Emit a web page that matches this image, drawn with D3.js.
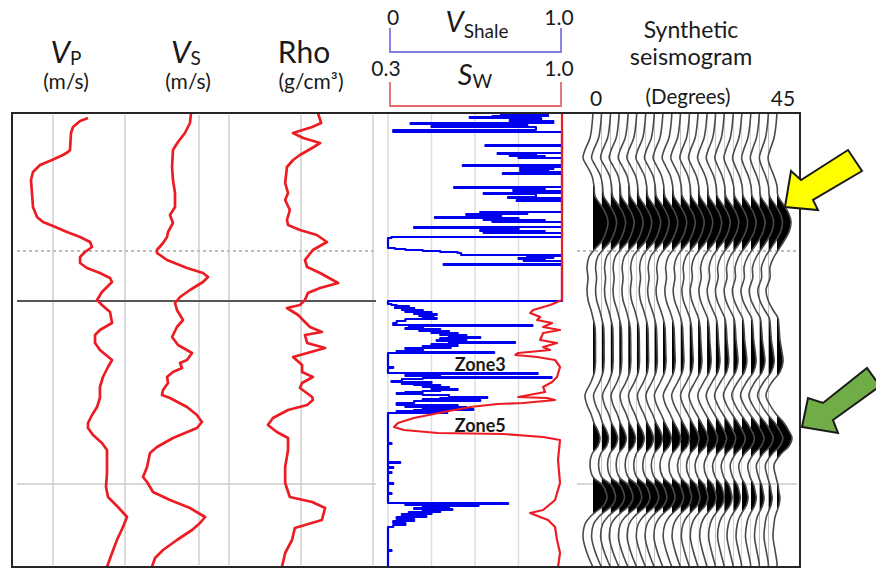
<!DOCTYPE html>
<html><head><meta charset="utf-8">
<script src="https://cdn.jsdelivr.net/npm/d3@7"></script>
<style>
body{margin:0;background:#fff}
svg{display:block;font-family:Lato,"Open Sans",sans-serif}
</style>
</head><body>
<svg id="chart" width="876" height="571"></svg>
<script>
// ---------------- DATA ----------------
// well logs: [depth (m), value]
const vpLog = [[2102.5,2743],[2104,2688],[2107,2639],[2110,2625],[2118.5,2618],[2119.5,2604],[2121,2569],[2123.5,2493],[2126,2410],[2129.5,2361],[2133.5,2347],[2140,2354],[2147,2361],[2152,2389],[2154.5,2431],[2156.5,2500],[2159.5,2597],[2162,2688],[2164.5,2757],[2167,2771],[2169.5,2722],[2172,2688],[2175,2688],[2177.5,2736],[2180,2826],[2182.5,2896],[2184.5,2910],[2187,2875],[2189.5,2840],[2193.5,2806],[2196,2840],[2199.5,2896],[2205,2910],[2208.5,2826],[2211,2792],[2215,2792],[2218.5,2826],[2223.5,2910],[2227,2882],[2232,2847],[2237,2826],[2242.5,2826],[2247,2806],[2251,2771],[2255,2743],[2257.5,2743],[2261,2778],[2265,2840],[2268.5,2875],[2273.5,2875],[2280,2875],[2287,2868],[2292,2882],[2297,2951],[2302,3014],[2307,2986],[2313.5,2944],[2320,2910],[2327,2875]];
const vsLog = [[2100,1446],[2105,1439],[2110,1405],[2114.5,1358],[2118.5,1324],[2127,1318],[2133.5,1324],[2140,1338],[2147,1338],[2151,1304],[2155,1324],[2159.5,1291],[2162,1284],[2165,1257],[2168.5,1216],[2170,1216],[2173.5,1284],[2177.5,1419],[2180,1527],[2182,1561],[2184.5,1527],[2188.5,1439],[2192,1372],[2195,1338],[2198.5,1351],[2203.5,1392],[2207,1351],[2212,1318],[2216,1358],[2220,1453],[2223.5,1419],[2225,1372],[2227.5,1385],[2229.5,1324],[2232,1284],[2235,1291],[2238.5,1257],[2241,1250],[2242.5,1304],[2247,1419],[2251,1486],[2254.5,1520],[2257.5,1486],[2262.5,1324],[2267,1216],[2270,1169],[2277,1149],[2282,1122],[2284.5,1149],[2289.5,1189],[2293.5,1304],[2297.5,1439],[2302,1541],[2305,1507],[2308.5,1453],[2313.5,1351],[2318.5,1257],[2322.5,1203],[2327,1182]];
const rhoLog = [[2100,2.247],[2105,2.256],[2107,2.231],[2110,2.178],[2112.5,2.206],[2115,2.253],[2117.5,2.231],[2121,2.197],[2123.5,2.178],[2127,2.161],[2135,2.156],[2140,2.164],[2143.5,2.156],[2148.5,2.169],[2153.5,2.161],[2156,2.164],[2158.5,2.197],[2161,2.244],[2164.5,2.272],[2168.5,2.233],[2173.5,2.211],[2177,2.217],[2180,2.253],[2185,2.303],[2187.5,2.253],[2190,2.219],[2193.5,2.211],[2196,2.197],[2197.5,2.161],[2201,2.192],[2204.5,2.211],[2207,2.225],[2209.5,2.258],[2211,2.211],[2215,2.217],[2217.5,2.267],[2222,2.178],[2226,2.203],[2229.5,2.203],[2232,2.233],[2235,2.203],[2237.5,2.197],[2242,2.231],[2243.5,2.233],[2246,2.217],[2248.5,2.164],[2252.5,2.122],[2256,2.108],[2259.5,2.133],[2262.5,2.164],[2268.5,2.164],[2277,2.156],[2285,2.156],[2292,2.169],[2294.5,2.231],[2297.5,2.267],[2303.5,2.258],[2307.5,2.183],[2313.5,2.175],[2320,2.156],[2327,2.147]];
const swLog = [[2100,1.0],[2193.5,1.0],[2196,0.952],[2198.5,0.884],[2200,0.872],[2202,0.912],[2203.5,0.90],[2205,0.96],[2207,0.924],[2208.5,0.992],[2210,0.924],[2213.5,0.912],[2215,0.98],[2217,0.924],[2218.5,0.952],[2220,0.824],[2221,0.812],[2222,0.90],[2223.5,0.972],[2227,0.992],[2232,0.98],[2234.5,0.96],[2237,0.924],[2239.5,0.932],[2242,0.824],[2242.5,0.94],[2243.5,0.972],[2245,0.844],[2245.5,0.74],[2247,0.632],[2249.5,0.524],[2252.5,0.404],[2255,0.34],[2257,0.324],[2258.5,0.364],[2260,0.50],[2260.5,0.764],[2262,0.924],[2263.5,0.992],[2273.5,0.984],[2285,0.992],[2293.5,0.972],[2298.5,0.924],[2300,0.872],[2302,0.912],[2303.5,0.944],[2307,0.972],[2313.5,0.98],[2320,0.992],[2327,0.984]];
// Vshale, step log: each value holds from its depth down to the next depth
const vshLog = [[2100,0.82],[2100.5,0.65],[2101,0.92],[2101.5,0.60],[2102,0.47],[2102.5,0.88],[2103.5,0.70],[2104,0.95],[2105,0.13],[2105.5,0.80],[2106.5,0.25],[2107,0.85],[2108.5,0.03],[2109.5,1.0],
 [2116,0.56],[2116.5,1.0],[2120,0.63],[2120.5,0.85],[2121,0.70],[2121.5,0.90],[2122,0.75],[2122.5,1.0],[2126,0.43],[2126.5,1.0],[2127,0.76],[2127.5,0.95],[2128,0.76],[2128.5,0.92],[2129,0.76],[2129.5,1.0],[2130,0.66],[2130.5,1.0],
 [2137,0.38],[2137.5,0.90],[2138.5,0.72],[2139,1.0],[2140,0.55],[2140.5,0.85],[2142,0.69],[2142.5,1.0],[2143.5,0.74],[2144,1.0],
 [2149.5,0.53],[2150,0.80],[2150.5,0.45],[2151,0.65],[2152,0.27],[2152.5,0.75],[2153,0.55],[2153.5,0.90],[2154,0.60],[2154.5,1.0],
 [2157,0.15],[2157.5,0.75],[2158.5,0.53],[2159,0.90],[2159.5,0.55],[2160,1.0],[2162,0.02],[2162.5,0.0],[2167.5,0.04],[2168,0.10],[2168.5,0.20],[2169,0.30],[2169.5,0.40],[2170,0.42],[2171,1.0],
 [2171.5,0.80],[2172,0.95],[2172.5,0.75],[2173,0.90],[2173.5,0.78],[2174,1.0],[2175.5,0.32],[2176,1.0],[2194,0.0],[2195.5,0.02],
 [2196,0.05],[2196.5,0.12],[2197,0.04],[2197.5,0.15],[2198,0.08],[2198.5,0.20],[2199,0.10],[2199.5,0.25],[2200,0.15],[2200.5,0.28],[2201,0.18],[2201.5,0.26],[2202,0.20],[2202.5,0.28],[2203,0.10],[2204,0.05],[2205,0.03],
 [2206,0.83],[2206.5,0.12],[2207,0.20],[2207.5,0.10],[2208,0.30],[2208.5,0.18],[2209,0.35],[2209.5,0.25],[2210,0.40],[2210.5,0.30],[2211,0.45],[2211.5,0.35],[2212,0.53],[2212.5,0.30],[2213,0.45],[2213.5,0.28],[2214,0.42],[2214.5,0.73],[2215,0.35],[2215.5,0.25],[2216,0.40],[2216.5,0.20],[2217,0.36],[2217.5,0.10],[2218,0.20],[2219,0.05],[2219.5,0.61],[2220,0.0],
 [2227,0.03],[2227.5,0.0],[2230,0.86],[2230.5,0.25],[2231,0.10],[2231.5,0.30],[2232,0.94],[2232.5,0.20],[2233,0.08],[2234,0.02],[2234.5,0.25],[2235,0.08],[2235.5,0.15],[2236,0.30],[2236.5,0.20],[2237,0.35],[2237.5,0.25],[2238,0.40],[2238.5,0.30],[2239,0.20],[2239.5,0.10],[2240,0.05],[2240.5,0.20],[2241,0.35],[2242,0.57],[2242.5,0.30],[2243,0.20],[2243.5,0.53],[2244,0.15],[2245,0.05],[2246,0.40],[2246.5,0.10],[2247,0.45],[2247.5,0.20],[2248,0.49],[2248.5,0.15],[2249,0.05],[2249.5,0.34],[2250,0.0],
 [2265,0.02],[2265.5,0.0],[2274.5,0.07],[2275,0.0],[2277,0.03],[2277.5,0.0],[2279.5,0.02],[2280,0.0],[2285,0.03],[2285.5,0.0],[2290,0.02],[2290.5,0.0],
 [2295,0.69],[2295.5,0.10],[2296,0.52],[2296.5,0.20],[2297,0.35],[2297.5,0.15],[2298,0.37],[2298.5,0.20],[2299,0.30],[2299.5,0.12],[2300,0.25],[2300.5,0.08],[2301.5,0.22],[2302,0.05],[2303,0.15],[2304,0.03],[2305,0.10],[2306,0.03],[2307,0.0],
 [2318.5,0.02],[2319,0.0],[2327,0.0]];

// synthetic seismogram: sample depths, near (0°) and far (45°) trace amplitudes
const seisDepth = [2100,2106,2112.5,2118.5,2122.5,2126.5,2131.5,2136.5,2141.5,2145.5,2149.5,2154.5,2159.5,2164,2168,2172,2177,2182.5,2188.5,2193.5,2198.5,2202.5,2207,2213.5,2219.5,2224.5,2229.5,2234.5,2241,2246,2250.5,2255,2259,2262.5,2266.5,2270.5,2276,2282,2286,2289.5,2292.5,2296,2299,2302,2305.5,2312,2318.5,2325,2327];
const nearTrace = [0,-0.1,-0.3,-0.8,-1.0,-0.6,-0.1,0.1,0.2,0.7,1.2,1.5,1.3,0.9,0.2,-0.4,-0.6,-0.5,-0.6,-0.5,-0.2,0,0.2,0.25,0.25,0.25,0.15,-0.2,-0.8,-0.6,-0.2,0.1,0.5,0.7,0.5,-0.1,-0.3,0,0.95,1.3,1.4,1.1,0.4,-0.3,-0.8,-1.0,-0.7,-0.2,0];
const farTrace  = [0,-0.1,-0.3,-0.7,-0.9,-0.7,-0.3,0,0.1,0.6,1.1,1.4,1.2,0.7,0.2,-0.3,-0.7,-0.7,-1.1,-0.9,-0.4,0.1,0.2,0.3,0.5,0.6,0.3,-0.5,-1.1,-0.7,-0.1,0.7,1.2,1.5,1.2,0.4,-0.3,-0.1,0.1,0.2,0.3,0.2,0,-0.2,-0.3,-0.4,-0.2,0,0];
const traceAngles = [0,2.1,4.3,6.4,8.6,10.7,12.9,15,17.1,19.3,21.4,23.6,25.7,27.9,30,32.1,34.3,36.4,38.6,40.7,42.9,45];

// tick / grid values and labels
const vpGrid = [2500, 3000];
const vsGrid = [1500];
const rhoGrid = [2.0, 2.2, 2.4];
const vshGrid = [0, 0.25, 0.5, 0.75];
const vshTickLabels = ["0", "1.0"];
const swTickLabels = ["0.3", "1.0"];
const angleTicks = [0, 45];
const markerDepths = {dashed: 2169, top: 2194, lower: 2285.5};
const zoneLabels = [["Zone3", 2229, 0.53], ["Zone5", 2259.5, 0.53]];

// ---------------- SCALES ----------------
const svg = d3.select("#chart");
const y = d3.scaleLinear().domain([2100, 2327]).range([113, 567]);
const xVp = d3.scaleLinear().domain([2500, 3000]).range([53, 125]);
const xVs = d3.scaleLinear().domain([1000, 1500]).range([125, 199]);
const xRho = d3.scaleLinear().domain([2.0, 2.4]).range([229, 373]);
const xVsh = d3.scaleLinear().domain([0, 1]).range([388, 562]);
const xSw = d3.scaleLinear().domain([0.3, 1.0]).range([388, 562]);
const xAng = d3.scaleLinear().domain([0, 45]).range([593, 777]);
const amp = d3.scaleLinear().domain([0, 1]).range([0, 10]);

const RED = "#ec1c24", BLUE = "#0000f0";
const defs = svg.append("defs");
defs.append("clipPath").attr("id","plotClip")
  .append("rect").attr("x",12).attr("y",113).attr("width",788).attr("height",454);

// ---------------- GRID ----------------
const grid = svg.append("g");
const gridX = [...vpGrid.map(xVp), ...vsGrid.map(xVs), ...rhoGrid.map(xRho)];
grid.selectAll(".gl").data(gridX).join("line")
  .attr("x1",d=>d).attr("x2",d=>d).attr("y1",115).attr("y2",565)
  .attr("stroke","#d2d2d2").attr("stroke-width",1.6);
grid.selectAll(".gm").data(vshGrid).join("line")
  .attr("x1",d=>xVsh(d)).attr("x2",d=>xVsh(d)).attr("y1",114).attr("y2",566)
  .attr("stroke","#dcdcdc").attr("stroke-width",1.4);

[[17,376],[577,797]].forEach(([a,b])=>{
  grid.append("line").attr("x1",a).attr("x2",b).attr("y1",y(markerDepths.dashed)).attr("y2",y(markerDepths.dashed))
    .attr("stroke","#bdbdbd").attr("stroke-width",2).attr("stroke-dasharray","3,3");
  grid.append("line").attr("x1",a).attr("x2",b).attr("y1",y(markerDepths.lower)).attr("y2",y(markerDepths.lower))
    .attr("stroke","#cacaca").attr("stroke-width",1.6);
});
grid.append("line").attr("x1",17).attr("x2",376).attr("y1",y(markerDepths.top)).attr("y2",y(markerDepths.top))
  .attr("stroke","#555").attr("stroke-width",2);

// ---------------- LOG CURVES ----------------
const plot = svg.append("g").attr("clip-path","url(#plotClip)");
function logLine(data, xs, color, w, curve){
  plot.append("path").datum(data)
    .attr("d", d3.line().x(d=>xs(d[1])).y(d=>y(d[0])).curve(curve||d3.curveLinear))
    .attr("fill","none").attr("stroke",color).attr("stroke-width",w).attr("stroke-linejoin","round");
}
logLine(vpLog, xVp, RED, 2.7);
logLine(vsLog, xVs, RED, 2.7);
logLine(rhoLog, xRho, RED, 2.7);
logLine(vshLog, xVsh, BLUE, 2.2, d3.curveStepBefore);
logLine(swLog, xSw, RED, 2.2);

zoneLabels.forEach(([t,d,v])=>{
  svg.append("text").attr("x",xVsh(v)).attr("y",y(d)).attr("text-anchor","middle")
    .attr("font-size",18).attr("font-weight","bold").attr("fill","#1a1a1a").text(t);
});

// ---------------- SEISMOGRAM ----------------
const seis = svg.append("g");
const s45 = Math.pow(Math.sin(45*Math.PI/180),2);
const traces = traceAngles.map(a=>{
  const w = Math.pow(Math.sin(a*Math.PI/180),2)/s45;
  return {base: xAng(a), pts: seisDepth.map((d,j)=>[d, nearTrace[j] + (farTrace[j]-nearTrace[j])*w])};
});
traces.forEach((t,i)=>{
  const cid = "tc"+i;
  defs.append("clipPath").attr("id",cid)
    .append("rect").attr("x",t.base).attr("y",113).attr("width",40).attr("height",454);
  seis.append("path").datum(t.pts)
    .attr("d", d3.area().y(d=>y(d[0])).x0(t.base).x1(d=>t.base+amp(d[1])).curve(d3.curveCatmullRom))
    .attr("fill","#000").attr("clip-path",`url(#${cid})`);
});
traces.forEach(t=>{
  seis.append("path").datum(t.pts)
    .attr("d", d3.line().y(d=>y(d[0])).x(d=>t.base+amp(d[1])).curve(d3.curveCatmullRom))
    .attr("fill","none").attr("stroke","#4a4a4a").attr("stroke-width",1.6);
});

// ---------------- FRAME ----------------
svg.append("rect").attr("x",12).attr("y",113).attr("width",788).attr("height",454)
  .attr("fill","none").attr("stroke","#262626").attr("stroke-width",2);

// ---------------- ARROWS ----------------
function arrow(tx, ty, offs, fill){
  svg.append("path")
    .attr("d", d3.line()(offs.map(([dx,dy])=>[tx+dx, ty+dy])) + "Z")
    .attr("fill",fill).attr("stroke","#1a1a1a").attr("stroke-width",2).attr("stroke-linejoin","miter");
}
arrow(xAng(45)+8, y(2147), [[0,0],[6,-36],[16,-27],[63,-57],[77,-36],[28,-7],[33,3]], "#ffff00");
arrow(xAng(45)+25, y(2257), [[0,0],[6,-29],[21,-24],[65,-59],[78,-41],[31,-7],[36,6]], "#70ad47");

// ---------------- HEADERS ----------------
const hdr = svg.append("g").attr("fill","#1a1a1a");
function subLabel(x, yb, main, sub, mainSize, subSize, dy){
  const t = hdr.append("text").attr("x",x).attr("y",yb).attr("text-anchor","middle");
  t.append("tspan").attr("font-style","italic").attr("font-size",mainSize).text(main);
  t.append("tspan").attr("font-size",subSize).attr("dy",dy).text(sub);
}
subLabel(66, 63, "V", "P", 31, 19, 2);
subLabel(186, 63, "V", "S", 31, 19, 2);
hdr.append("text").attr("x",304).attr("y",63).attr("text-anchor","middle").attr("font-size",30).text("Rho");
hdr.append("text").attr("x",66).attr("y",89).attr("text-anchor","middle").attr("font-size",21).text("(m/s)");
hdr.append("text").attr("x",188).attr("y",89).attr("text-anchor","middle").attr("font-size",21).text("(m/s)");
hdr.append("text").attr("x",311).attr("y",89).attr("text-anchor","middle").attr("font-size",21).text("(g/cm³)");

subLabel(477, 32, "V", "Shale", 29, 19, 6);
subLabel(475, 85, "S", "W", 29, 19, 3);
hdr.append("text").attr("x",xVsh(0)+5).attr("y",25).attr("text-anchor","middle").attr("font-size",21).text(vshTickLabels[0]);
hdr.append("text").attr("x",xVsh(1)-3).attr("y",25).attr("text-anchor","middle").attr("font-size",21).text(vshTickLabels[1]);
hdr.append("text").attr("x",xSw(0.3)-2).attr("y",76).attr("text-anchor","middle").attr("font-size",21).text(swTickLabels[0]);
hdr.append("text").attr("x",xSw(1.0)-3).attr("y",76).attr("text-anchor","middle").attr("font-size",21).text(swTickLabels[1]);
function bracket(yTop, yBot, color){
  svg.append("path")
    .attr("d", `M${xVsh(0)+2},${yTop}V${yBot}H${xVsh(1)-1}V${yTop}`)
    .attr("fill","none").attr("stroke",color).attr("stroke-width",1.8);
}
bracket(28, 52, "#7b7be0");
bracket(82, 106, "#e36a6a");

hdr.append("text").attr("x",691).attr("y",38).attr("text-anchor","middle").attr("font-size",23).text("Synthetic");
hdr.append("text").attr("x",691).attr("y",65).attr("text-anchor","middle").attr("font-size",23.5).text("seismogram");
hdr.append("text").attr("x",688).attr("y",104).attr("text-anchor","middle").attr("font-size",20.5).text("(Degrees)");
angleTicks.forEach((a,i)=>{
  hdr.append("text").attr("x",xAng(a)+(i?6:3)).attr("y",106).attr("text-anchor","middle").attr("font-size",21).text(String(a));
});
</script>
</body></html>
